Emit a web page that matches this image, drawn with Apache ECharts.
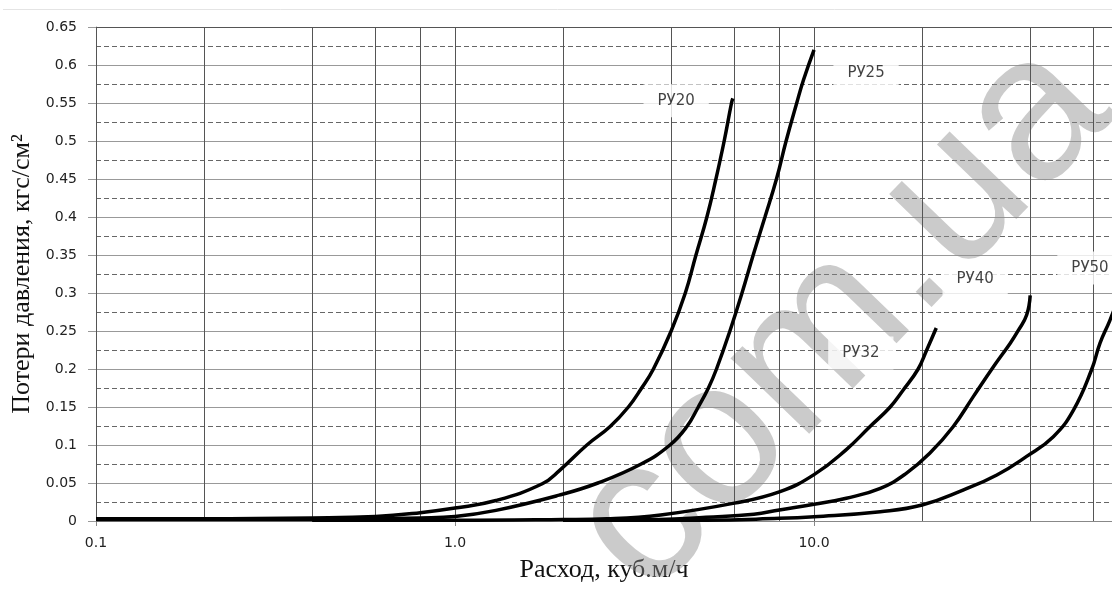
<!DOCTYPE html>
<html>
<head>
<meta charset="utf-8">
<script src="https://cdn.jsdelivr.net/npm/echarts@6/dist/echarts.min.js"></script>
<style>html,body{margin:0;padding:0;background:#fff;}#c{width:1112px;height:594px;}</style>
</head>
<body>
<div id="c"></div>
<script>
// ---- data ----
const seriesNames = ['РУ20', 'РУ25', 'РУ32', 'РУ40', 'РУ50'];
const xTickLabels = [0.1, 1, 10];
const xGridValues = [0.1, 0.2, 0.4, 0.6, 0.8, 1, 2, 4, 6, 8, 10, 20, 40, 60];
const ru20 = [[0.1,0.003],[0.2,0.003],[0.4,0.004],[0.6,0.006],[0.8,0.011],[1.0,0.017],[1.3,0.027],[1.75,0.049],[1.96,0.067],[2.33,0.1],[2.7,0.124],[3.04,0.15],[3.31,0.175],[3.57,0.2],[4.0,0.25],[4.38,0.3],[4.69,0.35],[5.03,0.4],[5.33,0.45],[5.62,0.5],[5.89,0.55],[5.94,0.556]];
const ru25 = [[0.1,0.002],[0.4,0.002],[0.6,0.003],[0.8,0.004],[1.0,0.006],[1.3,0.014],[1.95,0.034],[2.5,0.05],[3.3,0.075],[3.97,0.1],[4.42,0.124],[4.76,0.15],[5.08,0.175],[5.35,0.2],[5.83,0.25],[6.3,0.3],[6.77,0.35],[7.3,0.4],[7.87,0.451],[8.36,0.5],[8.95,0.55],[9.34,0.58],[10,0.62]];
const ru32 = [[0.4,0.001],[1.0,0.001],[2.0,0.002],[2.65,0.003],[3.74,0.008],[6.0,0.0235],[8.04,0.0386],[10,0.061],[12.3,0.094],[14.3,0.124],[16.3,0.15],[17.7,0.172],[19.5,0.2],[20.6,0.225],[21.9,0.254]];
const ru40 = [[2.0,0.001],[3.7,0.002],[5.0,0.005],[6.8,0.009],[8.0,0.0145],[10,0.022],[12.3,0.030],[15.3,0.043],[18.1,0.063],[21.0,0.089],[24.4,0.124],[27.8,0.164],[31.6,0.203],[35.2,0.234],[37.1,0.251],[39.1,0.271],[40.0,0.297]];
const ru50 = [[2.0,0.001],[5.0,0.001],[8.0,0.0035],[10,0.0057],[15.3,0.0123],[20,0.021],[26.1,0.041],[32.3,0.0605],[39.1,0.085],[46.4,0.111],[52.8,0.146],[59.3,0.199],[62.6,0.234],[66.7,0.264],[70,0.29]];
const labelAnchors = [[4.13,0.553],[13.96,0.589],[13.5,0.221],[28.1,0.318],[58.7,0.333]];

const chart = echarts.init(document.getElementById('c'), null, {renderer:'canvas'});
const curveData = [ru20, ru25, ru32, ru40, ru50];

const curveSeries = curveData.map((d, i) => ({
  name: seriesNames[i], type: 'line', data: d, showSymbol: false, z: 2,
  smooth: 0.45, clip: true,
  lineStyle: {color: '#000', width: 3.5}
}));

const gridMarks = xGridValues.map(v => ({xAxis: v}));
gridMarks.push({yAxis: 0.65, lineStyle: {color: '#555', width: 1, type: 'solid'}});

const option = {
  animation: false,
  backgroundColor: '#fff',
  grid: {left: 96, right: 0, top: 27, bottom: 73},
  graphic: [
    {type: 'line', z: 0, shape: {x1: 3, y1: 9.5, x2: 1112, y2: 9.5}, style: {stroke: '#e4e4e4', lineWidth: 1}},
    {type: 'text', z: 1, x: 842, y: 318, rotation: 46 * Math.PI / 180,
     style: {text: 'com.ua', font: '206px "Liberation Sans"', fill: 'rgba(140,140,140,0.45)', align: 'center', verticalAlign: 'middle'}}
  ],
  xAxis: {
    type: 'log', logBase: 10, min: 0.1, max: 67.6,
    axisLine: {show: true, lineStyle: {color: '#888', width: 1}},
    axisTick: {show: true, length: 5, lineStyle: {color: '#888'}},
    axisLabel: {showMaxLabel: false, margin: 15, fontFamily: 'DejaVu Sans', fontSize: 14, color: '#222',
      formatter: v => xTickLabels.some(t => Math.abs(t - v) < 1e-9 * Math.max(1, t)) ? Number(v).toFixed(1) : ''},
    splitLine: {show: false},
    name: 'Расход, куб.м/ч', nameLocation: 'middle', nameGap: 36,
    nameTextStyle: {fontFamily: 'Liberation Serif', fontSize: 26, color: '#111'}
  },
  yAxis: {
    type: 'value', min: 0, max: 0.65, interval: 0.05,
    axisLine: {show: true, lineStyle: {color: '#888', width: 1}},
    axisTick: {show: true, length: 8, lineStyle: {color: '#999'}},
    axisLabel: {margin: 19, fontFamily: 'DejaVu Sans', fontSize: 14, color: '#222'},
    splitLine: {show: true, lineStyle: {color: '#999', width: 1}},
    minorTick: {show: false, splitNumber: 2},
    minorSplitLine: {show: true, lineStyle: {color: '#666', width: 1, type: [5, 3]}},
    name: 'Потери давления, кгс/см²', nameLocation: 'middle', nameGap: 59, nameRotate: 90,
    nameTextStyle: {fontFamily: 'Liberation Serif', fontSize: 26, color: '#111'}
  },
  series: [
    {type: 'line', data: [[0.1, 0]], showSymbol: false, lineStyle: {opacity: 0}, silent: true, z: 1,
     markLine: {silent: true, z: 1.5, symbol: ['none', 'none'], label: {show: false}, animation: false,
       lineStyle: {color: '#555', width: 1, type: 'solid'}, data: gridMarks}},
    ...curveSeries,
    {type: 'scatter', z: 3, symbolSize: 0, silent: true,
     data: labelAnchors.map((p, i) => ({value: p, name: seriesNames[i]})),
     label: {show: true, position: 'inside', formatter: p => p.name, backgroundColor: '#fff',
       padding: [9, 14], fontFamily: 'DejaVu Sans', fontSize: 15, color: '#111'}}
  ]
};
chart.setOption(option);
</script>
</body>
</html>
